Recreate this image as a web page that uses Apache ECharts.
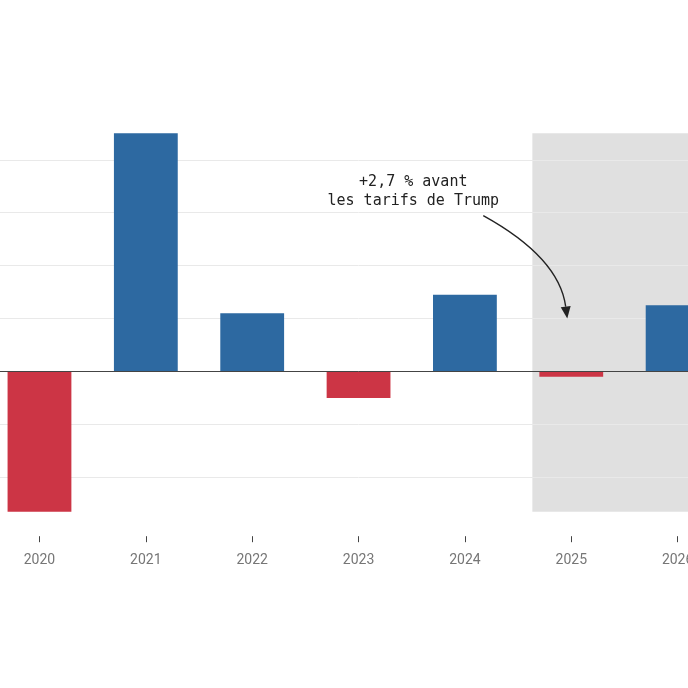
<!DOCTYPE html>
<html>
<head>
<meta charset="UTF-8">
<script src="https://cdn.jsdelivr.net/npm/echarts@6/dist/echarts.min.js"></script>
<style type="text/css">
html, body { margin: 0; padding: 0; background: #fff; overflow: hidden; }
/* le graphique déborde à gauche et à droite de la fenêtre */
#main { position: absolute; left: -50px; top: 0; width: 800px; height: 688px; }
</style>
</head>
<body>
<div id="main"></div>
<script type="text/javascript">
// années et variation annuelle (%)
var years = ['2020', '2021', '2022', '2023', '2024', '2025', '2026'];
var growth = [-5.3, 9.0, 2.2, -1.0, 2.9, -0.2, 2.5];
var forecastFrom = '2025';		// zone grisée = prévisions
var noteText = '+2,7 % avant\nles tarifs de Trump';
var notePoint = ['2025', 2];	// pointe de la flèche

var BLUE = '#2d69a1';
var RED = '#cc3545';

var yLo = Math.min.apply(null, growth);
var yHi = Math.max.apply(null, growth);

var chart = echarts.init(document.getElementById('main'));

var option = {
	backgroundColor: '#fff',
	animation: false,
	grid: { left: 36.3, width: 744.5, top: 133.3, bottom: 176.3, containLabel: false },
	xAxis: {
		type: 'category',
		data: years,
		offset: 24.5,
		axisLine: { show: false, onZero: false },
		axisTick: { show: true, alignWithLabel: true, length: 6, lineStyle: { color: '#444', width: 1 } },
		axisLabel: { margin: 17.5, color: '#767676', fontSize: 14, fontFamily: 'Roboto' },
		splitLine: { show: false }
	},
	yAxis: {
		type: 'value',
		min: 'dataMin',
		max: 'dataMax',
		minInterval: 2,
		maxInterval: 2,
		axisLine: { show: false },
		axisTick: { show: false },
		axisLabel: { show: false },
		splitLine: { show: true, showMinLine: false, showMaxLine: false, lineStyle: { color: '#e9e9e9', width: 1 } }
	},
	series: [
		{
			type: 'bar',
			data: growth,
			barWidth: '60%',
			z: 2,
			itemStyle: {
				color: function (p) { return p.value < 0 ? RED : BLUE; }
			},
			markLine: {
				silent: true,
				symbol: ['none', 'none'],
				label: { show: false },
				lineStyle: { color: '#444', width: 1, type: 'solid' },
				data: [{ yAxis: 0 }]
			}
		},
		{
			// fond gris des prévisions
			type: 'custom',
			z: -1,
			silent: true,
			clip: false,
			data: [[years.indexOf(forecastFrom), yLo, yHi]],
			encode: { x: 0, y: [1, 2] },
			renderItem: function (params, api) {
				var band = api.size([1, 0])[0];
				var top = api.coord([api.value(0), api.value(2)]);
				var bot = api.coord([api.value(0), api.value(1)]);
				var x0 = top[0] - band * 0.3 - 7;
				var x1 = params.coordSys.x + params.coordSys.width;
				return {
					type: 'rect',
					shape: { x: x0, y: top[1], width: x1 - x0, height: bot[1] - top[1] },
					style: { fill: '#e0e0e0' }
				};
			}
		}
	]
};
chart.setOption(option);

// annotation : texte + flèche courbe
var tip = chart.convertToPixel({ seriesIndex: 0 }, notePoint);
tip[0] -= 4;
var start = [tip[0] - 84, tip[1] - 103];
var ctrl = [tip[0] - 8, tip[1] - 61];
var dx = tip[0] - ctrl[0], dy = tip[1] - ctrl[1];
var len = Math.sqrt(dx * dx + dy * dy);
var ux = dx / len, uy = dy / len;
var headLen = 12, headW = 5;
var base = [tip[0] - ux * headLen, tip[1] - uy * headLen];

chart.setOption({
	graphic: [
		{
			type: 'bezierCurve',
			silent: true,
			z: 10,
			shape: { x1: start[0], y1: start[1], cpx1: ctrl[0], cpy1: ctrl[1], x2: base[0], y2: base[1] },
			style: { stroke: '#222', lineWidth: 1.4, fill: null }
		},
		{
			type: 'polygon',
			silent: true,
			z: 10,
			shape: {
				points: [
					tip,
					[base[0] - uy * headW, base[1] + ux * headW],
					[base[0] + uy * headW, base[1] - ux * headW]
				]
			},
			style: { fill: '#222' }
		},
		{
			type: 'text',
			silent: true,
			z: 10,
			x: tip[0] - 154,
			y: tip[1] - 127,
			style: {
				text: noteText,
				fill: '#222',
				font: '15px "DejaVu Sans Mono"',
				lineHeight: 18.5,
				align: 'center',
				verticalAlign: 'middle'
			}
		}
	]
});
</script>
</body>
</html>
